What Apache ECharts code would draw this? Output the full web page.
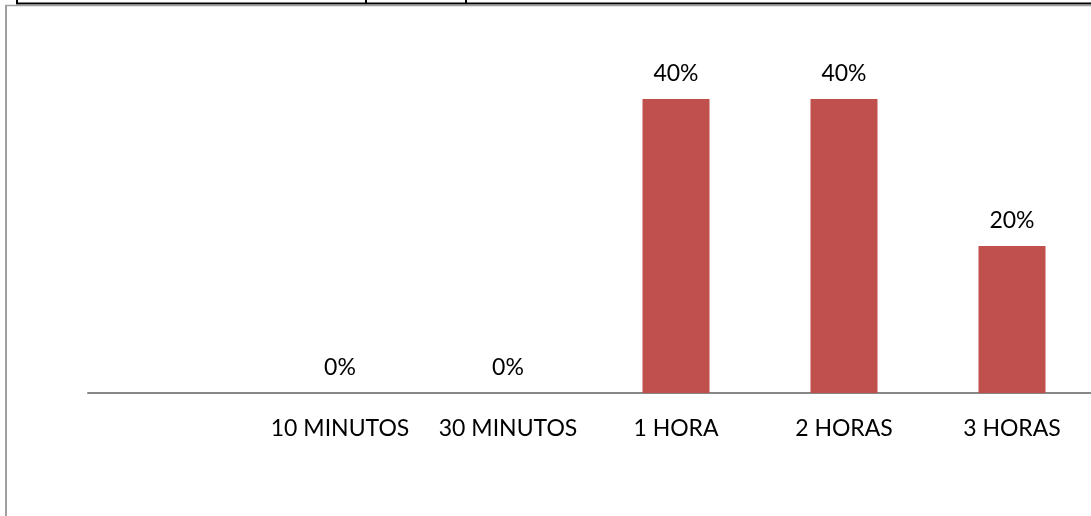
<!DOCTYPE html>
<html>
<head>
<meta charset="utf-8">
<script src="https://cdn.jsdelivr.net/npm/echarts@6/dist/echarts.min.js"></script>
<style>
  html, body { margin: 0; padding: 0; background: #fff; }
  #chart { width: 1091px; height: 516px; }
</style>
</head>
<body>
<div id="chart"></div>
<script>
// Time categories (the first slot is an empty leading category)
const categories = ['', '10 MINUTOS', '30 MINUTOS', '1 HORA', '2 HORAS', '3 HORAS'];
// Share of responses, in percent
const percentValues = [null, 0, 0, 40, 40, 20];

const chart = echarts.init(document.getElementById('chart'), null, { renderer: 'canvas' });
const fontFamily = 'Lato, "Open Sans", sans-serif';

chart.setOption({
  animation: false,
  backgroundColor: '#ffffff',
  grid: {
    left: 88, width: 1008, top: 25.5, height: 367.5,
    containLabel: false,
    outerBoundsMode: 'none'
  },
  xAxis: {
    type: 'category',
    data: categories,
    axisLine: { show: true, lineStyle: { color: '#878787', width: 2 } },
    axisTick: { show: false },
    axisLabel: { color: '#000', fontSize: 23, fontFamily: fontFamily, margin: 24, interval: 0 },
    splitLine: { show: false }
  },
  yAxis: {
    type: 'value',
    min: 0,
    max: 50,
    show: false,
    splitLine: { show: false }
  },
  series: [{
    type: 'bar',
    data: percentValues,
    barWidth: 67,
    itemStyle: { color: '#C0504D' },
    label: {
      show: true,
      position: 'top',
      distance: 14,
      color: '#000',
      fontSize: 23,
      fontFamily: fontFamily,
      formatter: p => p.value == null ? '' : p.value + '%'
    }
  }],
  graphic: [
    // page table rule above the chart frame
    { type: 'line', shape: { x1: 16, y1: 3.5, x2: 1091, y2: 3.5 }, style: { stroke: '#000', lineWidth: 2 } },
    { type: 'line', shape: { x1: 17, y1: 0, x2: 17, y2: 4 }, style: { stroke: '#000', lineWidth: 2 } },
    { type: 'line', shape: { x1: 366, y1: 0, x2: 366, y2: 4 }, style: { stroke: '#000', lineWidth: 2 } },
    { type: 'line', shape: { x1: 466, y1: 0, x2: 466, y2: 4 }, style: { stroke: '#000', lineWidth: 2 } },
    // chart frame
    { type: 'line', shape: { x1: 5, y1: 5.5, x2: 1091, y2: 5.5 }, style: { stroke: '#a0a0a0', lineWidth: 1.5 } },
    { type: 'line', shape: { x1: 6, y1: 5, x2: 6, y2: 516 }, style: { stroke: '#a0a0a0', lineWidth: 2 } }
  ]
});
</script>
</body>
</html>
